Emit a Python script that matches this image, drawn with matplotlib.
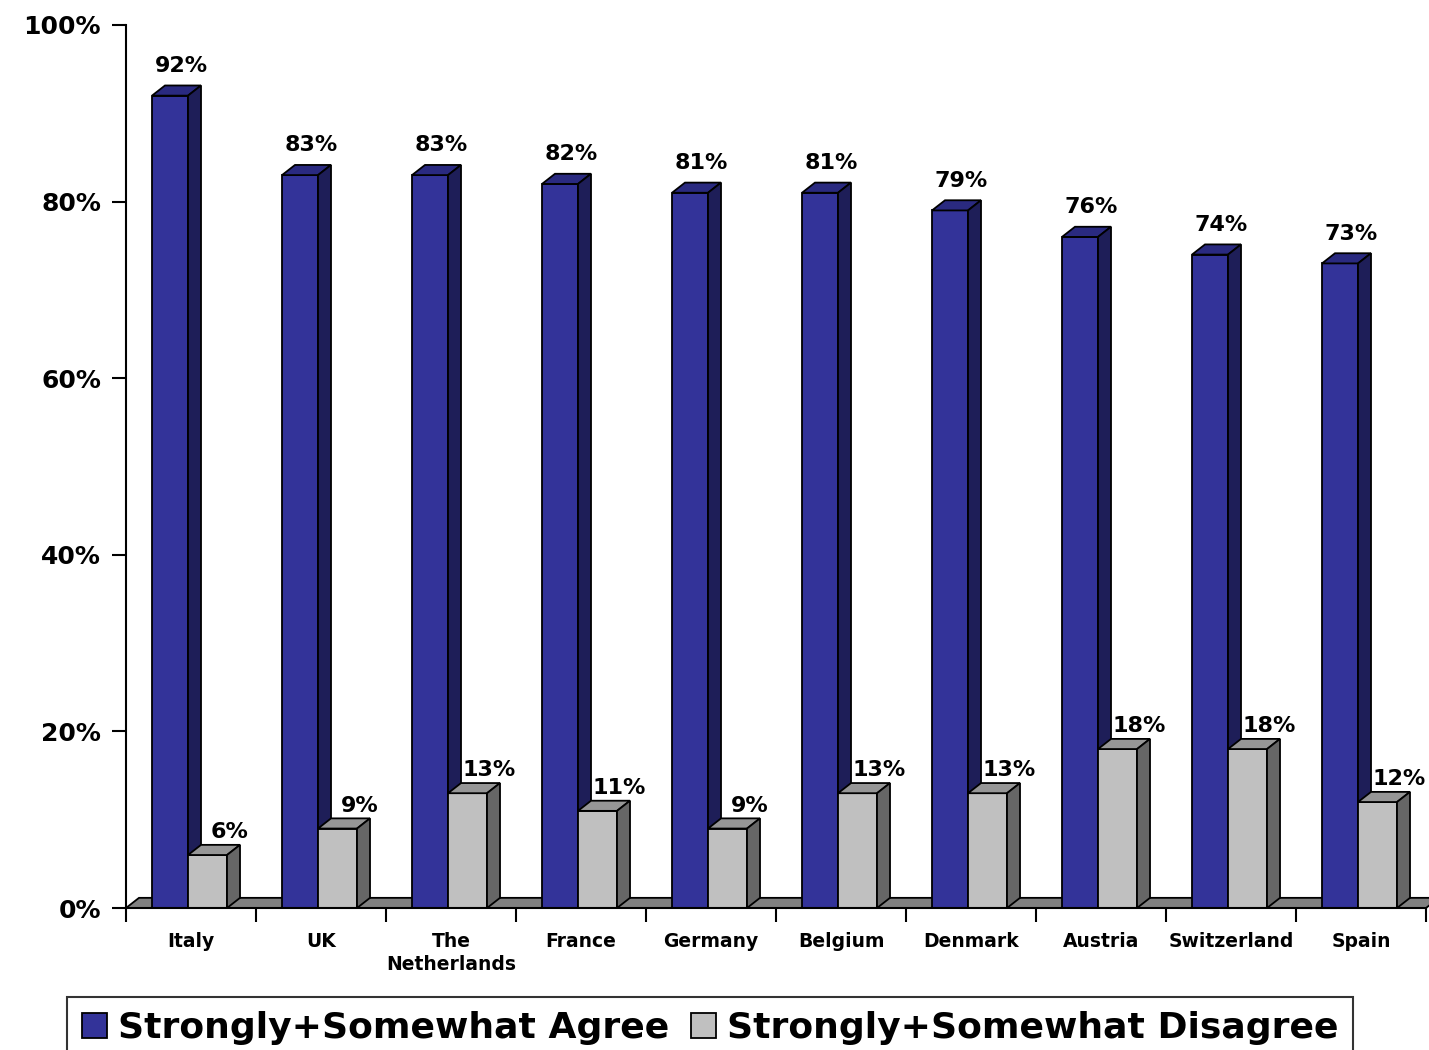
import matplotlib
matplotlib.use("Agg")
import matplotlib.pyplot as plt
from matplotlib.patches import Polygon, Patch

countries = ["Italy", "UK", "The\nNetherlands", "France", "Germany",
             "Belgium", "Denmark", "Austria", "Switzerland", "Spain"]
agree = [92, 83, 83, 82, 81, 81, 79, 76, 74, 73]
disagree = [6, 9, 13, 11, 9, 13, 13, 18, 18, 12]
series_names = ["Strongly+Somewhat Agree", "Strongly+Somewhat Disagree"]

# colours for front / top / side faces
BLUE = ("#333399", "#2a2a80", "#1e1e58")
GREY = ("#c0c0c0", "#969696", "#666666")
EDGE = "black"
DX, DY = 0.1, 1.15  # fake 3-D depth (x units, percent)

fig = plt.figure(figsize=(14.29, 10.5), dpi=100)
ax = fig.add_axes([126 / 1429, 142 / 1050, 1300 / 1429, 883 / 1050])
ax.set_xlim(0, 10)
ax.set_ylim(0, 100)


def bar3d(x0, w, h, colors):
    front, top, side = colors
    ax.bar(x0, h, w, align="edge", color=front, edgecolor=EDGE, lw=1.3, zorder=3, clip_on=False)
    ax.add_patch(Polygon([(x0, h), (x0 + DX, h + DY), (x0 + w + DX, h + DY), (x0 + w, h)],
                         closed=True, fc=top, ec=EDGE, lw=1.3, zorder=3, clip_on=False))
    ax.add_patch(Polygon([(x0 + w, 0), (x0 + w + DX, DY), (x0 + w + DX, h + DY), (x0 + w, h)],
                         closed=True, fc=side, ec=EDGE, lw=1.3, zorder=3, clip_on=False))


# floor
ax.add_patch(Polygon([(0, 0), (DX, DY), (10 + DX, DY), (10, 0)], closed=True,
                     fc="#808080", ec=EDGE, lw=1.3, zorder=2, clip_on=False))

wb, wg = 0.277, 0.3
for i, (a, d) in enumerate(zip(agree, disagree)):
    xb = i + 0.2
    xg = i + 0.477
    bar3d(xb, wb, a, BLUE)
    bar3d(xg, wg, d, GREY)
    ax.annotate(f"{a}%", (xb + wb / 2 + 0.085, a + DY), xytext=(0, 7),
                textcoords="offset points", ha="center", va="bottom",
                fontsize=16, fontweight="bold", zorder=5)
    ax.annotate(f"{d}%", (xg + wg + 0.02, d + DY), xytext=(0, 2),
                textcoords="offset points", ha="center", va="bottom",
                fontsize=16, fontweight="bold", zorder=5)

for s in ["top", "right"]:
    ax.spines[s].set_visible(False)
ax.spines["left"].set_linewidth(1.5)
ax.spines["bottom"].set_linewidth(1.5)
ax.spines["bottom"].set_zorder(4)

ax.set_yticks(range(0, 101, 20))
ax.set_yticklabels([f"{v}%" for v in range(0, 101, 20)])
ax.tick_params(axis="y", length=10, width=1.5, pad=8, labelsize=18)
for t in ax.get_yticklabels():
    t.set_fontweight("bold")

ax.set_xticks([i + 0.5 for i in range(10)])
ax.set_xticklabels(countries, fontsize=13.5, fontweight="bold", linespacing=1.3)
ax.set_xticks(range(11), minor=True)
ax.tick_params(axis="x", which="major", length=0, pad=17)
ax.tick_params(axis="x", which="minor", length=10, width=1.5)
for t in ax.get_xticklabels():
    t.set_verticalalignment("top")

handles = [Patch(fc=BLUE[0], ec=EDGE, lw=1.3), Patch(fc=GREY[0], ec=EDGE, lw=1.3)]
leg = fig.legend(handles, series_names, loc="upper center", ncol=2,
                 bbox_to_anchor=(710 / 1429, 1 - 997 / 1050),
                 prop={"size": 26, "weight": "bold"}, frameon=True, fancybox=False,
                 handlelength=0.7, handleheight=0.7, handletextpad=0.3,
                 columnspacing=0.6, borderpad=0.4, borderaxespad=0)
leg.get_frame().set_edgecolor("black")
leg.get_frame().set_linewidth(1.5)

fig.savefig("out.png", dpi=100)
